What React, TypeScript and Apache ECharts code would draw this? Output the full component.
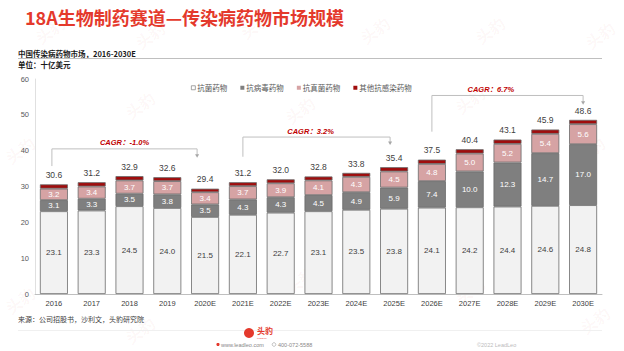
import React, { useEffect, useRef } from "react";
import * as echarts from "echarts";

const categories = ["2016", "2017", "2018", "2019", "2020E", "2021E", "2022E", "2023E", "2024E", "2025E", "2026E", "2027E", "2028E", "2029E", "2030E"];
const antibacterial = [23.1, 23.3, 24.5, 24.0, 21.5, 22.1, 22.7, 23.1, 23.5, 23.8, 24.1, 24.2, 24.4, 24.6, 24.8];
const antiviral = [3.1, 3.3, 3.5, 3.8, 3.5, 4.3, 4.3, 4.5, 4.9, 5.9, 7.4, 10.0, 12.3, 14.7, 17.0];
const antifungal = [3.2, 3.4, 3.7, 3.7, 3.4, 3.7, 3.9, 4.1, 4.3, 4.5, 4.8, 5.0, 5.2, 5.4, 5.6];
const otherAnti = [1.2, 1.2, 1.2, 1.1, 1.0, 1.1, 1.1, 1.1, 1.1, 1.2, 1.2, 1.2, 1.2, 1.2, 1.2];
const totals = [30.6, 31.2, 32.9, 32.6, 29.4, 31.2, 32.0, 32.8, 33.8, 35.4, 37.5, 40.4, 43.1, 45.9, 48.6];
const seriesNames = ["抗菌药物", "抗病毒药物", "抗真菌药物", "其他抗感染药物"];
const yMin = 0;
const yMax = 60;
const yInterval = 10;

const cagrLabels = ["CAGR：-1.0%", "CAGR：3.2%", "CAGR：6.7%"];
const cagrFrom = ["2016", "2021E", "2026E"];
const cagrTo = ["2020E", "2025E", "2030E"];

// annotation layout (value units / pixel offsets)
const bracketTop = [40.5, 43.8, 55.4];
const bracketLeftBottom = [35.7, 38.3, 45.3];
const bracketArrowTip = [38.0, 41.6, 52.8];
const bracketRightOffset = [-8, -4, 0];
const bracketTextFrac = [0.5, 0.46, 0.39];

const FONT = "'Liberation Sans', 'Noto Sans CJK SC', Arial, sans-serif";
const CJK = "'Noto Sans CJK SC', 'Liberation Sans', sans-serif";

export default function App() {
  const ref = useRef<HTMLDivElement>(null);
  useEffect(() => {
    document.body.style.margin = "0";
    const chart = echarts.init(ref.current!, null, { renderer: "svg" });
    const colors = ["#f2f2f2", "#7f7f7f", "#d6a3a4", "#a00d0d"];
    const labelColors = ["#404040", "#ffffff", "#ffffff", "#ffffff"];
    const datas = [antibacterial, antiviral, antifungal, otherAnti];
    const series: any[] = datas.map((d, i) => ({
      name: seriesNames[i],
      type: "bar",
      stack: "total",
      data: d,
      barCategoryGap: "26%",
      itemStyle: { color: colors[i], borderColor: "#6b6b6b", borderWidth: 0.8 },
      label:
        i < 3
          ? {
              show: true,
              position: "inside",
              color: labelColors[i],
              fontSize: 8,
              fontFamily: FONT,
              formatter: (p: any) => Number(p.value).toFixed(1),
            }
          : {
              show: true,
              position: "top",
              distance: 5,
              color: "#404040",
              fontSize: 8.5,
              fontFamily: FONT,
              formatter: (p: any) => totals[p.dataIndex].toFixed(1),
            },
    }));

    chart.setOption({
      animation: false,
      grid: { left: 35, right: 22, top: 79, bottom: 57, containLabel: false },
      legend: {
        data: seriesNames.map((n, i) => ({
          name: n,
          itemStyle: i === 0 ? { color: "#ffffff", borderColor: "#7f7f7f", borderWidth: 0.7 } : { color: colors[i], borderWidth: 0 },
        })),
        left: 186,
        top: 79,
        icon: "rect",
        itemWidth: 4,
        itemHeight: 4,
        itemGap: 13,
        textStyle: { fontSize: 7.5, color: "#595959", fontFamily: CJK, padding: [0, 0, 0, -3] },
      },
      xAxis: {
        type: "category",
        data: categories,
        axisLine: { lineStyle: { color: "#bfbfbf" } },
        axisTick: { show: false },
        axisLabel: { fontSize: 7.5, color: "#404040", fontFamily: FONT, margin: 6 },
      },
      yAxis: {
        type: "value",
        min: yMin,
        max: yMax,
        interval: yInterval,
        axisLine: { show: true, lineStyle: { color: "#e0e0e0" } },
        axisTick: { show: false },
        splitLine: { show: false },
        axisLabel: { fontSize: 7.5, color: "#595959", fontFamily: FONT, margin: 6 },
      },
      series,
    });

    const px = (cat: string, v: number) => chart.convertToPixel({ gridIndex: 0 }, [cat, v]) as number[];
    const graphics: any[] = [];

    // watermarks
    const wm = [
      [50, 30], [150, 35], [255, 25], [375, 30], [490, 30], [600, 35],
      [20, 150], [140, 105], [300, 110], [470, 100], [590, 150],
      [20, 300], [140, 330], [300, 280], [470, 290], [595, 320],
    ];
    wm.forEach(([x, y]) => {
      graphics.push({
        type: "text",
        x,
        y,
        rotation: Math.PI / 5,
        silent: true,
        z: -10,
        style: { text: "头豹", fill: "rgba(220,60,50,0.045)", font: `bold 16px ${CJK}`, align: "center", verticalAlign: "middle" },
      });
    });

    graphics.push(
      { type: "text", x: 25, y: 17, style: { text: "18A生物制药赛道—传染病药物市场规模", fill: "#e4392c", font: `bold 18px ${CJK}`, verticalAlign: "middle" } },
      { type: "text", x: 18, y: 53, style: { text: "中国传染病药物市场，2016-2030E", fill: "#1a1a1a", font: `bold 7.5px ${CJK}`, verticalAlign: "middle" } },
      { type: "line", shape: { x1: 18, y1: 58.5, x2: 602, y2: 58.5 }, style: { stroke: "#bfbfbf", lineWidth: 1 } },
      { type: "text", x: 18, y: 64, style: { text: "单位：十亿美元", fill: "#1a1a1a", font: `bold 7.5px ${CJK}`, verticalAlign: "middle" } },
      { type: "text", x: 18, y: 319, style: { text: "来源：公司招股书，沙利文，头豹研究院", fill: "#404040", font: `7px ${CJK}`, verticalAlign: "middle" } },
      { type: "line", shape: { x1: 18, y1: 330.5, x2: 602, y2: 330.5 }, style: { stroke: "#f0f0f0", lineWidth: 1 } },
      { type: "circle", shape: { cx: 249, cy: 333, r: 5 }, style: { fill: "#e4392c" } },
      { type: "text", x: 257, y: 330, style: { text: "头豹", fill: "#e4392c", font: `bold 8px ${CJK}`, verticalAlign: "middle" } },
      { type: "text", x: 257, y: 338.5, style: { text: "LeadLeo", fill: "#e4392c", font: `2.5px ${FONT}`, verticalAlign: "middle" } },
      { type: "circle", shape: { cx: 218, cy: 344.5, r: 1.6 }, style: { fill: "#e4392c" } },
      { type: "text", x: 221, y: 344.5, style: { text: "www.leadleo.com", fill: "#888", font: `5.5px ${FONT}`, verticalAlign: "middle" } },
      { type: "circle", shape: { cx: 274, cy: 344.5, r: 1.8 }, style: { fill: "none", stroke: "#999", lineWidth: 0.6 } },
      { type: "text", x: 278, y: 344.5, style: { text: "400-072-5588", fill: "#888", font: `5.5px ${FONT}`, verticalAlign: "middle" } },
      { type: "text", x: 477, y: 344.5, style: { text: "©2022 LeadLeo", fill: "#bbb", font: `5.5px ${FONT}`, verticalAlign: "middle" } }
    );

    cagrLabels.forEach((lab, i) => {
      const l = px(cagrFrom[i], bracketTop[i]);
      const lb = px(cagrFrom[i], bracketLeftBottom[i]);
      const r = px(cagrTo[i], bracketTop[i]);
      const rt = px(cagrTo[i], bracketArrowTip[i]);
      const xl = l[0] - (i === 0 ? 2 : 0);
      const xr = r[0] + bracketRightOffset[i];
      graphics.push(
        {
          type: "polyline",
          shape: { points: [[xl, lb[1]], [xl, l[1]], [xr, l[1]], [xr, rt[1] - 3]] },
          style: { stroke: "#bfbfbf", lineWidth: 1, fill: "none" },
        },
        {
          type: "polygon",
          shape: { points: [[xr - 2, rt[1] - 3.5], [xr + 2, rt[1] - 3.5], [xr, rt[1]]] },
          style: { fill: "#a6a6a6" },
        },
        {
          type: "text",
          x: xl + (xr - xl) * bracketTextFrac[i],
          y: l[1] - 6,
          style: {
            text: lab,
            fill: "#c00000",
            font: `italic bold 7.5px ${FONT}`,
            align: "center",
            verticalAlign: "middle",
          },
        }
      );
    });

    chart.setOption({ graphic: { elements: graphics } });
    return () => chart.dispose();
  }, []);
  return <div ref={ref} style={{ position: "fixed", left: 0, top: 0, width: 624, height: 351, background: "#fff" }} />;
}
